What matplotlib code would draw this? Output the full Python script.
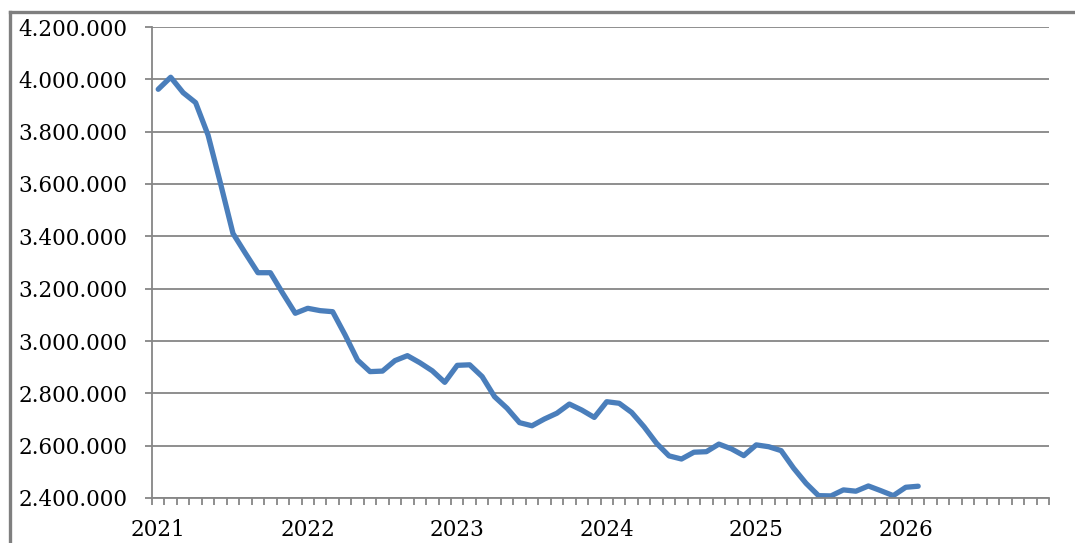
import numpy as np
import matplotlib.pyplot as plt
from matplotlib.lines import Line2D
from matplotlib.ticker import FuncFormatter

# Monthly values, Jan 2021 .. Feb 2026
values = [3962000, 4008000, 3949000, 3911000, 3787000, 3602000, 3411000, 3335000,
          3261000, 3261000, 3182000, 3106000, 3125000, 3116000, 3112000, 3023000,
          2927000, 2883000, 2885000, 2925000, 2944000, 2917000, 2886000, 2842000,
          2907000, 2909000, 2864000, 2787000, 2743000, 2688000, 2676000, 2702000,
          2724000, 2759000, 2736000, 2708000, 2768000, 2762000, 2727000, 2672000,
          2609000, 2561000, 2549000, 2575000, 2577000, 2606000, 2588000, 2562000,
          2603000, 2596000, 2581000, 2514000, 2456000, 2409000, 2408000, 2431000,
          2426000, 2446000, 2428000, 2409000, 2441000, 2445000]
years = ['2021', '2022', '2023', '2024', '2025', '2026']
n_months = 72

W, H = 1075, 543
fig = plt.figure(figsize=(W / 100, H / 100), dpi=100)
ax = fig.add_axes([152 / W, (H - 498) / H, (1049 - 152) / W, (498 - 27) / H])

grey = '#868686'
ax.plot(range(len(values)), values, color='#4a7ebb', linewidth=3.8,
        solid_joinstyle='round', solid_capstyle='round')

ax.set_xlim(-0.5, n_months - 0.5)
ax.set_ylim(2400000, 4200000)
ax.set_yticks(np.arange(2400000, 4200001, 200000))
ax.yaxis.set_major_formatter(FuncFormatter(lambda v, p: f'{int(v):,}'.replace(',', '.')))
ax.grid(axis='y', color=grey, linewidth=1.3)
ax.set_axisbelow(True)

ax.set_xticks(np.arange(0, n_months, 12))
ax.set_xticklabels(years)
ax.set_xticks(np.arange(-0.5, n_months, 1), minor=True)

for s in ['top', 'right']:
    ax.spines[s].set_visible(False)
for s in ['left', 'bottom']:
    ax.spines[s].set_color(grey)
    ax.spines[s].set_linewidth(1.3)

for lab in ax.get_yticklabels() + ax.get_xticklabels():
    lab.set_fontfamily('DejaVu Serif')
    lab.set_fontsize(15.5)
    lab.set_color('black')
ax.tick_params(axis='y', length=5, width=1.3, color=grey, pad=12.5)
ax.tick_params(axis='x', which='major', length=0, pad=15)
ax.tick_params(axis='x', which='minor', length=5, width=1.3, color=grey, direction='out')

# grey outer frame of the chart area (top and left edges visible)
fig.add_artist(Line2D([10 / W, 10 / W], [0, 1 - 12 / H], color='#7f7f7f', linewidth=2.4,
                      transform=fig.transFigure))
fig.add_artist(Line2D([10 / W, 1], [1 - 12 / H, 1 - 12 / H], color='#7f7f7f', linewidth=2.4,
                      transform=fig.transFigure))

fig.savefig('out.png', dpi=100, facecolor='white')
